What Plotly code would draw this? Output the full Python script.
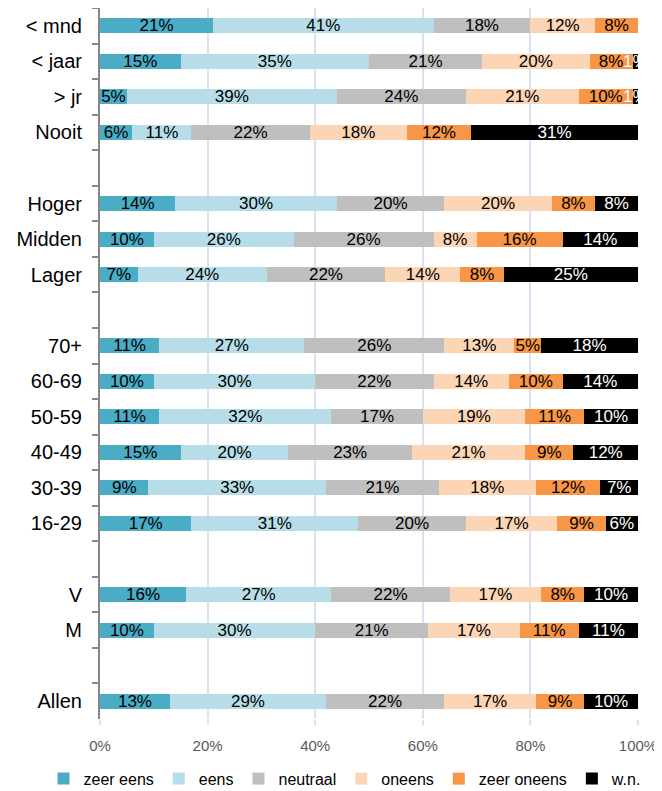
import plotly.graph_objects as go

categories = ["< mnd", "< jaar", "> jr", "Nooit", " ",
              "Hoger", "Midden", "Lager", "  ",
              "70+", "60-69", "50-59", "40-49", "30-39", "16-29", "   ",
              "V", "M", "    ", "Allen"]

zeer_eens   = [21, 15, 5, 6, 0, 14, 10, 7, 0, 11, 10, 11, 15, 9, 17, 0, 16, 10, 0, 13]
eens        = [41, 35, 39, 11, 0, 30, 26, 24, 0, 27, 30, 32, 20, 33, 31, 0, 27, 30, 0, 29]
neutraal    = [18, 21, 24, 22, 0, 20, 26, 22, 0, 26, 22, 17, 23, 21, 20, 0, 22, 21, 0, 22]
oneens      = [12, 20, 21, 18, 0, 20, 8, 14, 0, 13, 14, 19, 21, 18, 17, 0, 17, 17, 0, 17]
zeer_oneens = [8, 8, 10, 12, 0, 8, 16, 8, 0, 5, 10, 11, 9, 12, 9, 0, 8, 11, 0, 9]
wn          = [0, 1, 1, 31, 0, 8, 14, 25, 0, 18, 14, 10, 12, 7, 6, 0, 10, 11, 0, 10]

series_names = ["zeer eens", "eens", "neutraal", "oneens", "zeer oneens", "w.n."]
series_values = [zeer_eens, eens, neutraal, oneens, zeer_oneens, wn]
series_colors = ["#4BACC6", "#B7DEE8", "#BFBFBF", "#FCD5B5", "#F79646", "#000000"]
text_colors = ["#000000", "#000000", "#000000", "#000000", "#000000", "#FFFFFF"]

x_ticks = [0, 20, 40, 60, 80, 100]
x_ticklabels = ["0%", "20%", "40%", "60%", "80%", "100%"]

FONT = "Liberation Sans, Arial, sans-serif"

fig = go.Figure()
for name, vals, col, tcol in zip(series_names, series_values, series_colors, text_colors):
    fig.add_trace(go.Bar(
        y=categories, x=vals, name=name, orientation="h",
        marker=dict(color=col, line=dict(width=0)),
        text=[f"{v}%" if v else "" for v in vals],
        textposition="inside", insidetextanchor="middle", textangle=0,
        textfont=dict(color=tcol, size=17, family=FONT),
        hoverinfo="x+y+name",
    ))

# the page body adds an 8px offset, so the figure is 8px smaller and margins shifted
fig.update_layout(
    barmode="stack",
    bargap=0.58,
    width=654, height=783,
    margin=dict(l=92, r=24, t=0, b=72, autoexpand=False),
    paper_bgcolor="white", plot_bgcolor="white",
    font=dict(family=FONT),
    uniformtext=dict(minsize=17, mode="show"),
    legend=dict(orientation="h", xref="paper", yref="paper",
                x=-0.105, xanchor="left", y=-0.084, yanchor="middle",
                font=dict(size=16, color="#000000", family=FONT),
                traceorder="normal", itemwidth=30),
    xaxis=dict(range=[0, 100], tickvals=x_ticks, ticktext=x_ticklabels,
               automargin=False,
               showgrid=True, gridcolor="#D9E1F2", gridwidth=1.5,
               zeroline=False, showline=False,
               ticks="outside", ticklen=5, tickcolor="#D9E1F2", tickwidth=1.5,
               ticklabelstandoff=8,
               tickfont=dict(size=15, color="#595959", family=FONT)),
    yaxis=dict(categoryorder="array", categoryarray=categories, autorange="reversed",
               type="category", automargin=False,
               showline=True, linecolor="#868686", linewidth=2,
               ticks="outside", tickson="boundaries", ticklen=6, tickcolor="#868686", tickwidth=2,
               ticklabelstandoff=12,
               showgrid=False,
               tickfont=dict(size=20, color="#000000", family=FONT)),
)

fig.write_html("out.html")
